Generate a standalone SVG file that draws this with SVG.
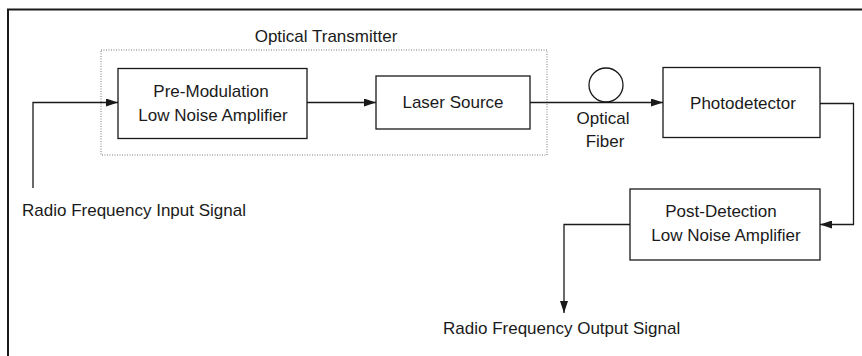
<svg xmlns="http://www.w3.org/2000/svg" width="862" height="356" viewBox="0 0 862 356">
<style>
text{font-family:"Liberation Sans",Arial,sans-serif;font-size:17px;fill:#1a1a1a}
.box{fill:#fff;stroke:#1a1a1a;stroke-width:1.3}
.ln{fill:none;stroke:#1a1a1a;stroke-width:1.3}
</style>
<defs>
<marker id="ah" viewBox="0 0 12 8" refX="12" refY="4" markerWidth="12" markerHeight="8" markerUnits="userSpaceOnUse" orient="auto">
<path d="M0,0 L12,4 L0,8 Z" fill="#1a1a1a"/>
</marker>
</defs>
<rect width="862" height="356" fill="#fff"/>
<rect x="8" y="9.5" width="900" height="400" fill="none" stroke="#1a1a1a" stroke-width="2"/>
<g id="transmitter">
<rect x="101" y="50" width="446" height="105" fill="none" stroke="#777" stroke-width="1" stroke-dasharray="1,1.5"/>
<text x="326" y="41.5" text-anchor="middle">Optical Transmitter</text>
</g>
<g id="connectors">
<polyline class="ln" points="33,188 33,102.5 118,102.5" marker-end="url(#ah)"/>
<line class="ln" x1="307" y1="102.5" x2="376" y2="102.5" marker-end="url(#ah)"/>
<line class="ln" x1="530" y1="102.5" x2="663" y2="102.5" marker-end="url(#ah)"/>
<polyline class="ln" points="820,103.5 853.5,103.5 853.5,224.5 820,224.5" marker-end="url(#ah)"/>
<polyline class="ln" points="630,224.5 564,224.5 564,313" marker-end="url(#ah)"/>
</g>
<g id="premod">
<rect class="box" x="118" y="68.5" width="189" height="70"/>
<text x="211" y="97" text-anchor="middle">Pre-Modulation</text>
<text x="213" y="120.5" text-anchor="middle">Low Noise Amplifier</text>
</g>
<g id="laser">
<rect class="box" x="376" y="76" width="154" height="53"/>
<text x="453" y="108" text-anchor="middle">Laser Source</text>
</g>
<g id="fiber">
<circle cx="606" cy="85" r="17" fill="none" stroke="#1a1a1a" stroke-width="1.3"/>
<text x="603" y="123.5" text-anchor="middle">Optical</text>
<text x="605" y="147" text-anchor="middle">Fiber</text>
</g>
<g id="photodetector">
<rect class="box" x="663" y="67.5" width="157" height="70"/>
<text x="743" y="108.5" text-anchor="middle">Photodetector</text>
</g>
<g id="postdet">
<rect class="box" x="630" y="189" width="190" height="71"/>
<text x="721" y="216.5" text-anchor="middle">Post-Detection</text>
<text x="726" y="240.5" text-anchor="middle">Low Noise Amplifier</text>
</g>
<g id="input">
<text x="22" y="215.5">Radio Frequency Input Signal</text>
</g>
<g id="output">
<text x="443" y="334">Radio Frequency Output Signal</text>
</g>
</svg>
